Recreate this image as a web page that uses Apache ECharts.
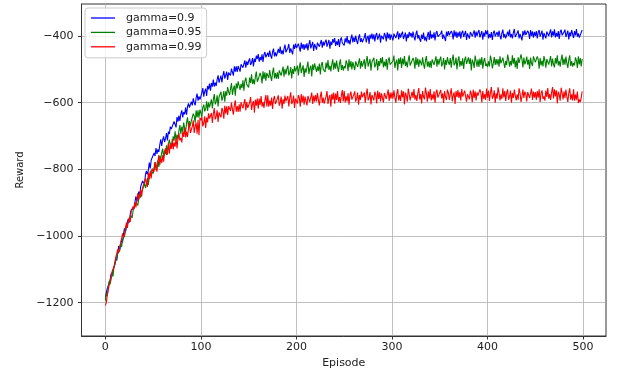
<!DOCTYPE html>
<html>
<head>
<meta charset="utf-8">
<script src="https://cdn.jsdelivr.net/npm/echarts@6/dist/echarts.min.js"></script>
<style>
html,body{margin:0;padding:0;background:#fff;}
#chart{width:622px;height:374px;}
</style>
</head>
<body>
<div id="chart"></div>
<script>
const seriesNames = ['gamma=0.9', 'gamma=0.95', 'gamma=0.99'];
const xTicks = [0, 100, 200, 300, 400, 500];
const yTicks = [-1200, -1000, -800, -600, -400];

const gamma09 = [
-1184,-1184,-1158,-1160,-1158,-1132,-1113,-1121,-1102,-1102,
-1086,-1065,-1073,-1049,-1030,-1041,-1028,-1007,-1020,-994,
-977,-988,-970,-970,-949,-960,-935,-922,-927,-917,
-915,-898,-881,-897,-879,-867,-880,-851,-854,-835,
-835,-844,-816,-805,-815,-803,-780,-797,-772,-777,
-777,-751,-760,-736,-754,-740,-748,-726,-710,-730,
-712,-701,-718,-708,-691,-713,-687,-694,-672,-679,
-677,-679,-656,-660,-674,-643,-657,-639,-655,-634,
-623,-644,-628,-635,-615,-636,-612,-602,-615,-609,
-597,-608,-587,-600,-608,-586,-573,-594,-581,-591,
-586,-571,-556,-582,-566,-558,-580,-550,-560,-543,
-564,-541,-552,-531,-552,-540,-550,-531,-518,-540,
-536,-519,-539,-519,-505,-528,-522,-507,-532,-510,
-514,-518,-498,-503,-519,-491,-507,-491,-508,-490,
-492,-507,-485,-480,-495,-490,-473,-495,-476,-487,
-475,-467,-487,-480,-466,-491,-468,-478,-459,-469,
-454,-477,-463,-473,-455,-478,-456,-448,-464,-460,
-450,-463,-444,-458,-468,-448,-438,-461,-449,-461,
-461,-439,-451,-432,-454,-443,-455,-438,-426,-449,
-450,-436,-424,-451,-437,-431,-455,-426,-439,-423,
-436,-442,-423,-429,-447,-420,-438,-424,-442,-425,
-437,-422,-443,-425,-412,-437,-432,-418,-445,-424,
-425,-441,-420,-416,-432,-428,-412,-435,-417,-429,
-418,-411,-432,-426,-412,-438,-417,-427,-409,-420,
-406,-430,-416,-427,-409,-433,-412,-404,-421,-417,
-428,-407,-419,-400,-422,-412,-425,-407,-396,-419,
-404,-418,-399,-414,-424,-405,-395,-418,-407,-419,
-417,-404,-391,-419,-406,-399,-424,-396,-408,-393,
-410,-395,-416,-398,-391,-411,-406,-393,-420,-399,
-404,-410,-391,-398,-416,-389,-407,-393,-412,-395,
-397,-413,-393,-389,-406,-402,-386,-410,-392,-405,
-394,-387,-409,-403,-390,-416,-395,-406,-388,-400,
-391,-405,-387,-402,-413,-394,-384,-408,-397,-410,
-417,-396,-409,-390,-413,-403,-416,-399,-388,-412,
-384,-408,-395,-406,-389,-413,-392,-385,-402,-399,
-406,-393,-384,-409,-396,-390,-415,-387,-400,-385,
-398,-404,-385,-392,-410,-383,-401,-387,-406,-389,
-401,-386,-408,-390,-384,-403,-398,-385,-412,-392,
-392,-408,-388,-384,-401,-397,-383,-405,-387,-400,
-389,-382,-404,-398,-385,-411,-390,-401,-383,-395,
-383,-407,-394,-405,-388,-412,-391,-384,-401,-398,
-388,-402,-384,-399,-410,-391,-381,-405,-394,-407,
-408,-387,-400,-381,-404,-394,-407,-390,-379,-403,
-404,-391,-383,-407,-394,-388,-413,-385,-398,-383,
-397,-403,-384,-391,-409,-382,-400,-386,-405,-388,
-400,-385,-407,-389,-382,-402,-397,-384,-411,-391,
-391,-407,-387,-383,-400,-396,-380,-404,-386,-399,
-380,-404,-391,-402,-385,-409,-388,-381,-398,-395,
-388,-381,-403,-397,-384,-410,-389,-400,-382,-394,
-406,-385,-398,-379,-402,-392,-405,-399,-410,-382
];

const gamma095 = [
-1194,-1172,-1179,-1154,-1135,-1145,-1130,-1109,-1121,-1094,
-1085,-1088,-1063,-1052,-1057,-1045,-1023,-1033,-1011,-1012,
-1001,-997,-975,-973,-980,-951,-957,-939,-946,-925,
-917,-922,-900,-906,-908,-887,-872,-885,-869,-874,
-852,-840,-856,-845,-826,-847,-821,-826,-803,-809,
-813,-795,-778,-802,-784,-773,-793,-760,-769,-749,
-738,-765,-744,-754,-728,-756,-724,-711,-729,-721,
-732,-701,-714,-686,-712,-696,-710,-684,-667,-694,
-672,-687,-660,-677,-688,-660,-644,-673,-655,-669,
-655,-660,-633,-640,-660,-623,-644,-623,-645,-621,
-623,-642,-614,-606,-626,-619,-596,-625,-599,-614,
-612,-590,-617,-591,-574,-605,-597,-578,-611,-583,
-578,-567,-594,-584,-565,-597,-566,-579,-553,-567,
-577,-559,-541,-577,-558,-549,-579,-542,-557,-536,
-532,-562,-544,-556,-533,-564,-535,-525,-545,-540,
-554,-525,-541,-515,-544,-530,-545,-522,-507,-537,
-530,-536,-511,-520,-542,-506,-529,-509,-534,-511,
-509,-526,-502,-521,-535,-509,-495,-527,-511,-528,
-509,-529,-503,-497,-519,-513,-492,-522,-499,-515,
-498,-489,-518,-510,-493,-527,-499,-514,-490,-506,
-509,-489,-518,-494,-479,-511,-505,-488,-523,-497,
-510,-493,-477,-514,-497,-489,-521,-485,-502,-482,
-477,-508,-491,-505,-483,-515,-487,-478,-500,-496,
-508,-480,-497,-472,-502,-489,-506,-484,-470,-501,
-480,-498,-474,-494,-508,-483,-470,-502,-487,-504,
-490,-497,-473,-482,-505,-470,-494,-475,-500,-478,
-481,-502,-476,-471,-493,-488,-467,-498,-475,-492,
-490,-470,-499,-475,-460,-492,-486,-469,-504,-478,
-474,-465,-494,-486,-469,-503,-475,-490,-466,-482,
-463,-494,-477,-491,-469,-501,-473,-464,-486,-482,
-492,-475,-459,-496,-479,-471,-503,-467,-484,-464,
-496,-468,-485,-460,-490,-477,-494,-472,-458,-489,
-483,-490,-466,-475,-498,-463,-487,-468,-493,-471,
-470,-488,-464,-484,-498,-473,-460,-492,-477,-494,
-475,-496,-470,-465,-487,-482,-461,-492,-469,-486,
-471,-462,-491,-483,-466,-500,-472,-487,-463,-479,
-486,-466,-495,-471,-456,-488,-482,-465,-500,-474,
-461,-492,-475,-489,-467,-499,-471,-462,-484,-480,
-464,-484,-467,-503,-471,-479,-496,-459,-475,-492,
-471,-493,-468,-487,-463,-498,-475,-466,-490,-483,
-493,-476,-491,-459,-472,-497,-483,-463,-487,-469,
-486,-469,-492,-461,-482,-487,-465,-470,-496,-475,
-487,-456,-470,-492,-475,-488,-458,-483,-466,-494,
-473,-499,-464,-481,-487,-455,-470,-494,-465,-485,
-478,-462,-486,-471,-499,-465,-482,-490,-461,-470,
-479,-483,-461,-470,-498,-466,-488,-474,-491,-460,
-474,-495,-469,-464,-486,-481,-460,-491,-468,-485,
-494,-466,-483,-458,-488,-475,-492,-470,-456,-487,
-468,-486,-462,-482,-496,-471,-458,-490,-475,-492,
-481,-488,-464,-473,-496,-461,-485,-466,-491,-469
];

const gamma099 = [
-1208,-1200,-1178,-1173,-1148,-1154,-1124,-1107,-1107,-1093,
-1089,-1063,-1064,-1040,-1049,-1032,-1033,-1010,-992,-1003,
-995,-978,-960,-976,-957,-945,-958,-928,-931,-911,
-919,-898,-914,-890,-872,-891,-879,-860,-881,-855,
-856,-859,-828,-832,-853,-810,-830,-805,-827,-798,
-792,-807,-778,-795,-807,-776,-757,-787,-767,-781,
-758,-777,-745,-737,-757,-748,-722,-753,-725,-739,
-709,-740,-720,-732,-705,-737,-705,-692,-713,-706,
-719,-687,-703,-674,-704,-687,-703,-678,-660,-691,
-692,-671,-653,-691,-671,-660,-693,-652,-698,-646,
-653,-642,-671,-661,-641,-676,-645,-659,-632,-648,
-653,-631,-661,-634,-616,-650,-642,-623,-658,-629,
-637,-644,-616,-624,-648,-609,-633,-611,-637,-611,
-607,-625,-600,-620,-636,-608,-593,-627,-610,-628,
-605,-627,-599,-594,-617,-612,-589,-623,-598,-616,
-618,-599,-583,-622,-604,-595,-630,-591,-609,-588,
-618,-588,-607,-580,-612,-598,-616,-593,-577,-611,
-578,-612,-594,-609,-585,-619,-590,-580,-604,-599,
-588,-578,-609,-600,-582,-618,-589,-604,-579,-596,
-601,-580,-611,-586,-569,-604,-597,-579,-616,-588,
-595,-603,-577,-586,-612,-574,-599,-579,-606,-582,
-586,-608,-580,-575,-598,-593,-570,-604,-579,-597,
-577,-596,-571,-592,-608,-581,-567,-601,-585,-603,
-600,-581,-565,-604,-586,-577,-612,-573,-591,-570,
-603,-573,-592,-565,-597,-583,-601,-578,-562,-596,
-565,-599,-581,-596,-572,-606,-577,-567,-591,-586,
-576,-566,-597,-588,-570,-606,-577,-592,-567,-584,
-590,-569,-600,-575,-558,-593,-586,-568,-605,-577,
-585,-593,-567,-576,-602,-564,-589,-569,-596,-572,
-577,-599,-571,-566,-589,-584,-561,-595,-570,-588,
-569,-588,-563,-584,-600,-573,-559,-593,-577,-595,
-563,-584,-566,-605,-570,-579,-597,-558,-574,-593,
-597,-567,-586,-559,-591,-577,-595,-572,-556,-590,
-574,-602,-565,-583,-590,-555,-572,-597,-566,-587,
-559,-593,-575,-590,-566,-600,-571,-561,-585,-580,
-579,-562,-587,-572,-601,-565,-583,-592,-561,-571,
-592,-573,-557,-596,-578,-569,-604,-565,-583,-562,
-586,-568,-593,-559,-582,-587,-564,-569,-597,-575,
-582,-590,-564,-573,-599,-561,-586,-566,-593,-569,
-579,-584,-560,-570,-599,-565,-589,-574,-592,-558,
-585,-564,-595,-570,-553,-588,-581,-563,-600,-572,
-588,-554,-570,-593,-575,-589,-557,-584,-565,-595,
-570,-560,-591,-582,-564,-600,-571,-586,-561,-578,
-593,-575,-591,-557,-571,-598,-582,-561,-586,-567,
-574,-596,-568,-563,-586,-581,-558,-592,-567,-585,
-568,-592,-565,-585,-560,-598,-572,-563,-589,-581,
-594,-564,-583,-556,-588,-574,-592,-569,-553,-587,
-560,-581,-563,-602,-567,-576,-594,-555,-571,-590,
-567,-586,-561,-582,-598,-571,-557,-591,-575,-593,
-560,-594,-576,-591,-567,-601,-590,-598,-586,-566
];

const seriesValues = [gamma09, gamma095, gamma099];
const seriesColors = ['#0000ff', '#008000', '#ff0000'];

const FONT = 'DejaVu Sans';
const minusFmt = v => String(v).replace('-', '\u2212');

const chart = echarts.init(document.getElementById('chart'), null, {renderer: 'canvas'});
chart.setOption({
  animation: false,
  backgroundColor: '#ffffff',
  grid: {
    left: 81.5, right: 16, top: 4, bottom: 38,
    containLabel: false,
    show: true, borderColor: '#333333', borderWidth: 1, backgroundColor: '#ffffff'
  },
  legend: {
    orient: 'vertical',
    left: 85, top: 8,
    data: seriesNames,
    icon: 'rect',
    itemWidth: 24, itemHeight: 1.3,
    itemGap: 2.4,
    padding: [4, 5, 5, 6],
    backgroundColor: 'rgba(255,255,255,0.8)',
    borderColor: '#cccccc', borderWidth: 1, borderRadius: 3,
    textStyle: {fontFamily: FONT, fontSize: 11, color: '#222222', lineHeight: 12, padding: [0, 0, 0, 6]}
  },
  xAxis: {
    type: 'value',
    min: -24.95, max: 523.95,
    name: 'Episode', nameLocation: 'middle', nameGap: 18,
    nameTextStyle: {fontFamily: FONT, fontSize: 11, color: '#222222'},
    axisLine: {show: true, onZero: false, lineStyle: {color: '#333333', width: 1}},
    axisTick: {show: true, length: 3.5, lineStyle: {color: '#333333'}, customValues: xTicks},
    axisLabel: {fontFamily: FONT, fontSize: 11, color: '#222222', margin: 6, customValues: xTicks, formatter: minusFmt},
    splitLine: {show: true, lineStyle: {color: '#b0b0b0', width: 0.8}}
  },
  yAxis: {
    type: 'value',
    min: -1300, max: -304,
    name: 'Reward', nameLocation: 'middle', nameGap: 53, nameRotate: 90,
    nameTextStyle: {fontFamily: FONT, fontSize: 10, color: '#222222'},
    axisLine: {show: true, onZero: false, lineStyle: {color: '#333333', width: 1}},
    axisTick: {show: true, length: 3.5, lineStyle: {color: '#333333'}, customValues: yTicks},
    axisLabel: {fontFamily: FONT, fontSize: 11, color: '#222222', margin: 8, customValues: yTicks, formatter: minusFmt},
    splitLine: {show: true, lineStyle: {color: '#b0b0b0', width: 0.8}}
  },
  series: seriesNames.map((name, k) => ({
    name: name,
    type: 'line',
    data: seriesValues[k].map((v, i) => [i, v]),
    showSymbol: false,
    symbol: 'none',
    color: seriesColors[k],
    lineStyle: {color: seriesColors[k], width: 1.1},
    z: 2 + k
  }))
});
</script>
</body>
</html>
